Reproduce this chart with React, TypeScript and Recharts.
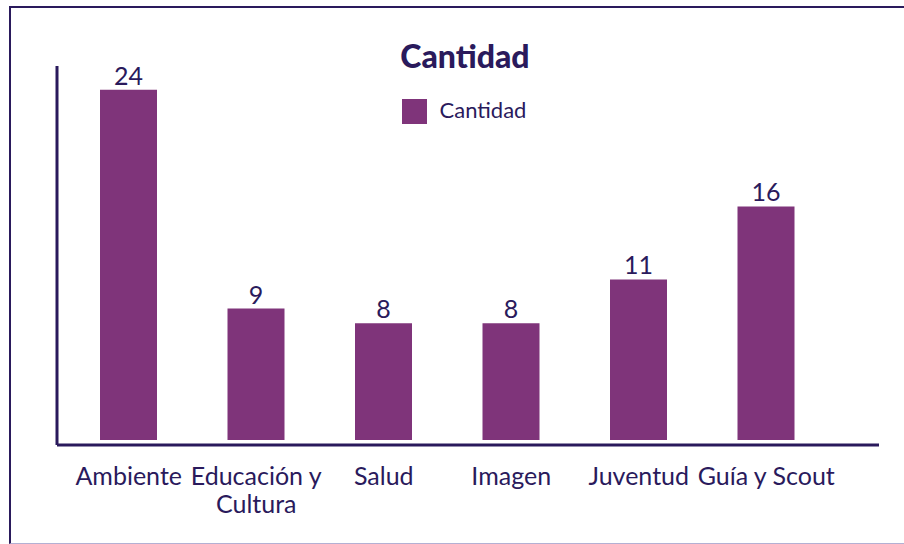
import { BarChart, Bar, XAxis, YAxis, LabelList, Legend } from 'recharts';

// values
const categories = ['Ambiente', 'Educación y Cultura', 'Salud', 'Imagen', 'Juventud', 'Guía y Scout'];
const cantidad = [24, 9, 8, 8, 11, 16];
const tickLines = [['Ambiente'], ['Educación y', 'Cultura'], ['Salud'], ['Imagen'], ['Juventud'], ['Guía y Scout']];
const seriesName = 'Cantidad';
const title = 'Cantidad';

const NAVY = '#2a1a5c';
const PURPLE = '#7f347a';
const FONT = 'Lato, "Noto Sans", sans-serif';

const data = categories.map((name, i) => ({ name, cantidad: cantidad[i] }));

const CategoryTick = ({ x, y, payload }: any) => {
  const idx = categories.indexOf(payload.value);
  const lines = idx >= 0 ? tickLines[idx] : [payload.value];
  return (
    <g>
      {lines.map((line, i) => (
        <text key={i} x={x} y={y + 40 + i * 28} textAnchor="middle" fill={NAVY} fontSize={25} fontFamily={FONT}>
          {line}
        </text>
      ))}
    </g>
  );
};

const LegendContent = () => (
  <div style={{ display: 'flex', justifyContent: 'center', alignItems: 'center', paddingLeft: 24, fontFamily: FONT }}>
    <span style={{ width: 25, height: 25, background: PURPLE, display: 'inline-block' }} />
    <span style={{ marginLeft: 13, fontSize: 22, lineHeight: '22px', color: NAVY, position: 'relative', top: -2 }}>
      {seriesName}
    </span>
  </div>
);

export default function App() {
  return (
    <>
      <div
        style={{
          position: 'absolute',
          left: 9,
          top: 6,
          width: 895,
          height: 538,
          boxSizing: 'border-box',
          borderTop: `2px solid ${NAVY}`,
          borderLeft: `2px solid ${NAVY}`,
          borderBottom: '1px solid #b3b0d3',
        }}
      />
      <div
        style={{
          position: 'absolute',
          left: 0,
          top: 40,
          width: 930,
          textAlign: 'center',
          fontFamily: FONT,
          fontWeight: 900,
          fontSize: 32,
          lineHeight: '32px',
          color: NAVY,
        }}
      >
        {title}
      </div>
      <div style={{ position: 'absolute', left: 0, top: 0 }}>
        <BarChart
          width={904}
          height={544}
          data={data}
          margin={{ top: 66, right: 25, bottom: 0, left: 0 }}
          style={{ fontFamily: FONT }}
        >
          <XAxis
            dataKey="name"
            height={99}
            interval={0}
            tickLine={false}
            tickSize={0}
            tickMargin={0}
            axisLine={{ stroke: NAVY, strokeWidth: 3 }}
            padding={{ left: 8, right: 49 }}
            tick={<CategoryTick />}
          />
          <YAxis
            width={57}
            domain={[-0.342, 25.62]}
            tick={false}
            tickLine={false}
            axisLine={{ stroke: NAVY, strokeWidth: 3 }}
          />
          <Legend
            verticalAlign="middle"
            align="center"
            wrapperStyle={{ top: 99, left: 0, width: 904 }}
            content={<LegendContent />}
          />
          <Bar dataKey="cantidad" name={seriesName} fill={PURPLE} barSize={57} isAnimationActive={false}>
            <LabelList dataKey="cantidad" position="top" offset={5} fill={NAVY} fontSize={25} fontFamily={FONT} />
          </Bar>
        </BarChart>
      </div>
    </>
  );
}
